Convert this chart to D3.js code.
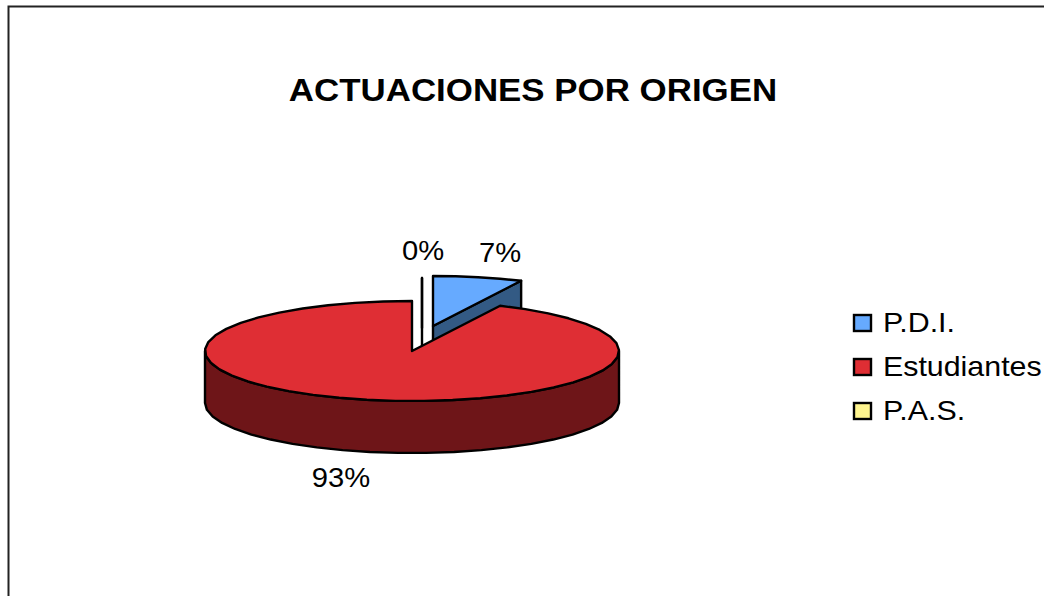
<!DOCTYPE html>
<html>
<head>
<meta charset="utf-8">
<script src="https://cdn.jsdelivr.net/npm/d3@7/dist/d3.min.js"></script>
<style>
  html, body { margin: 0; padding: 0; background: #fff; overflow: hidden; }
  text { font-family: "Liberation Sans", Arial, sans-serif; fill: #000; }
</style>
</head>
<body>
<svg id="chart" width="1044" height="596"></svg>
<script>
var TITLE = 'ACTUACIONES POR ORIGEN';
var categories = ['P.D.I.', 'Estudiantes', 'P.A.S.'];
var percents = [7, 93, 0];
var topColors = ['#66AAFF', '#DF2E34', '#FFF58F'];
var wallColors = ['#335A84', '#6E1518', '#807A48'];

// Pie geometry, the image is a bit stretched so the ellipse is very flat
var cx = 412, cy = 351, rx = 207, ry = 50, depth = 52;
var sliceOffsets = [[21, -25], [0, 0], [10, -23]];
var labelOffsets = [[88, -89], [-71, 136], [11, -91]];

var svg = d3.select('#chart');

// Frame, only left and top edges are inside the picture
svg.append('path')
    .attr('d', 'M8.5,596V6.5H1044')
    .style('fill', 'none')
    .style('stroke', '#222')
    .style('stroke-width', 2);

// Stretched text helper
function addText(x, y, str, size, stretch, anchor, weight) {
    return svg.append('text')
        .attr('transform', 'translate(' + x + ',' + y + ') scale(' + stretch + ',1)')
        .attr('text-anchor', anchor)
        .attr('font-size', size)
        .attr('font-weight', weight || 'normal')
        .text(str);
}

addText(533, 101, TITLE, 32, 1.09, 'middle', 'bold');

var pie = d3.pie().sort(null).startAngle(0).endAngle(2 * Math.PI);
var slices = pie(percents);
var line = d3.line();

function rimPoints(a0, a1, ox, oy) {
    let n = Math.max(1, Math.ceil((a1 - a0) / 0.14));
    return d3.range(n + 1).map(function (i) {
        let a = a0 + (a1 - a0) * i / n;
        return [cx + ox + rx * Math.sin(a), cy + oy - ry * Math.cos(a)];
    });
}

function drawPoly(g, pts, fill) {
    g.append('path')
        .attr('d', line(pts) + 'Z')
        .style('fill', fill)
        .style('stroke', '#000')
        .style('stroke-width', 2.4)
        .style('stroke-linejoin', 'round');
}

// Back to front: P.A.S., P.D.I., Estudiantes
[2, 0, 1].forEach(function (i) {
    let s = slices[i];
    let ox = sliceOffsets[i][0], oy = sliceOffsets[i][1];
    let g = svg.append('g').attr('class', 'slice');
    let apex = [cx + ox, cy + oy];
    let rim = rimPoints(s.startAngle, s.endAngle, ox, oy);

    // cut face on the end edge of the slice
    if (s.endAngle < Math.PI || s.startAngle === s.endAngle) {
        let e = rim[rim.length - 1];
        drawPoly(g, [apex, e, [e[0], e[1] + depth], [apex[0], apex[1] + depth]], wallColors[i]);
    }
    // outer wall, only the front half shows
    let a0 = Math.max(s.startAngle, Math.PI / 2), a1 = Math.min(s.endAngle, 3 * Math.PI / 2);
    if (a1 > a0) {
        let front = rimPoints(a0, a1, ox, oy);
        let under = front.map(function (p) { return [p[0], p[1] + depth]; }).reverse();
        drawPoly(g, front.concat(under), wallColors[i]);
    }
    // top face
    drawPoly(g, [apex].concat(rim), topColors[i]);
});

// Percent labels
slices.forEach(function (s, i) {
    addText(cx + labelOffsets[i][0], cy + labelOffsets[i][1], percents[i] + '%', 27, 1.08, 'middle');
});

// Legend
var legendY = d3.scalePoint().domain(categories).range([332, 420]);
var legend = svg.selectAll('g.legend')
    .data(categories)
    .enter()
    .append('g')
    .attr('class', 'legend');
legend.append('rect')
    .attr('x', 854)
    .attr('y', function (d) { return legendY(d) - 17; })
    .attr('width', 17)
    .attr('height', 16)
    .style('fill', function (d, i) { return topColors[i]; })
    .style('stroke', '#000')
    .style('stroke-width', 2.4);
categories.forEach(function (d) {
    addText(883, legendY(d), d, 27, 1.125, 'start');
});
</script>
</body>
</html>
